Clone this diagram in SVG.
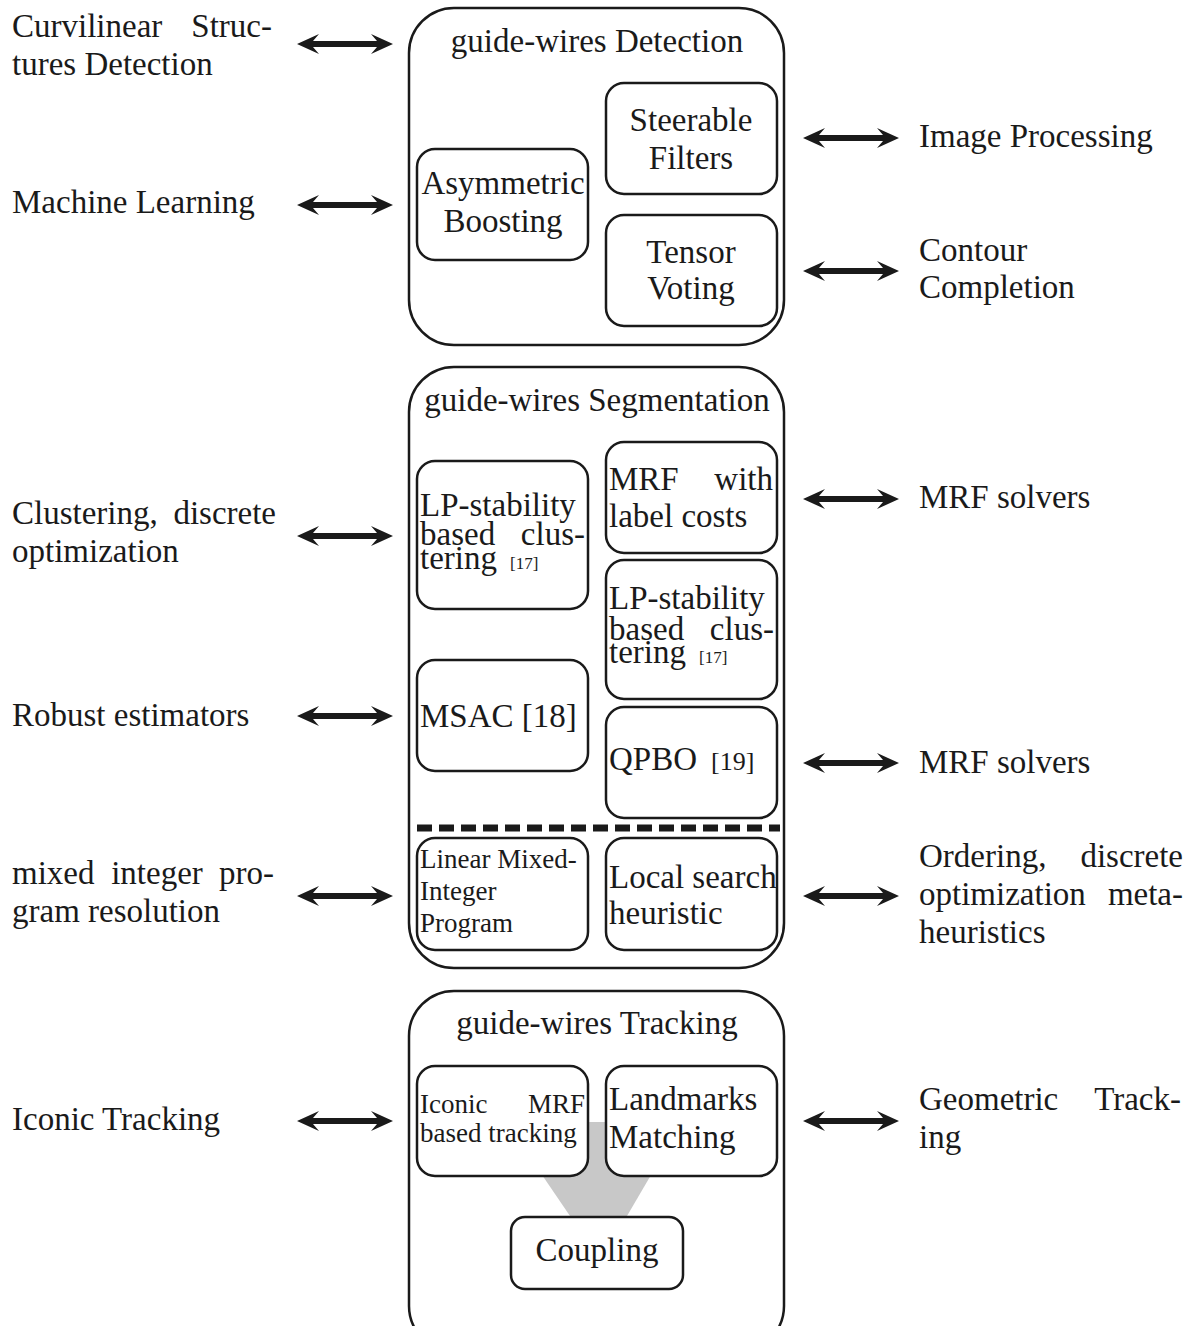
<svg xmlns="http://www.w3.org/2000/svg" width="1196" height="1326" viewBox="0 0 1196 1326">
<style>
text{font-family:"Liberation Serif","DejaVu Serif",serif;fill:#1a1a1a;font-size:33px}
.sm{font-size:27px}
.ref{font-size:17px}
.outer{fill:none;stroke:#1a1a1a;stroke-width:2.5}
.inner{fill:#fff;stroke:#1a1a1a;stroke-width:2.5}
.arr{fill:#1a1a1a}
.mid{text-anchor:middle}
.end{text-anchor:end}
</style>
<defs>
<path id="dbl" class="arr" d="M0,0 L22,-10 L16,-3 L80,-3 L74,-10 L96,0 L74,10 L80,3 L16,3 L22,10 Z"/>
</defs>
<rect width="1196" height="1326" fill="#fff"/>

<g id="connectors">
<use href="#dbl" x="297" y="44"/>
<use href="#dbl" x="297" y="205"/>
<use href="#dbl" x="297" y="536"/>
<use href="#dbl" x="297" y="716"/>
<use href="#dbl" x="297" y="896"/>
<use href="#dbl" x="297" y="1121"/>
<use href="#dbl" x="803" y="138"/>
<use href="#dbl" x="803" y="271"/>
<use href="#dbl" x="803" y="499"/>
<use href="#dbl" x="803" y="763"/>
<use href="#dbl" x="803" y="896"/>
<use href="#dbl" x="803" y="1121"/>
</g>

<g id="left-labels">
<text x="12" y="37">Curvilinear</text><text x="272" y="37" class="end">Struc-</text>
<text x="12" y="75">tures Detection</text>
<text x="12" y="213">Machine Learning</text>
<text x="12" y="524">Clustering,</text><text x="276" y="524" class="end">discrete</text>
<text x="12" y="562">optimization</text>
<text x="12" y="726">Robust estimators</text>
<text x="12" y="884">mixed</text><text x="157" y="884" class="mid">integer</text><text x="274" y="884" class="end">pro-</text>
<text x="12" y="922">gram resolution</text>
<text x="12" y="1130">Iconic Tracking</text>
</g>

<g id="right-labels">
<text x="919" y="147">Image Processing</text>
<text x="919" y="261">Contour</text>
<text x="919" y="298">Completion</text>
<text x="919" y="508">MRF solvers</text>
<text x="919" y="773">MRF solvers</text>
<text x="919" y="867">Ordering,</text><text x="1183" y="867" class="end">discrete</text>
<text x="919" y="905">optimization</text><text x="1183" y="905" class="end">meta-</text>
<text x="919" y="943">heuristics</text>
<text x="919" y="1110">Geometric</text><text x="1181" y="1110" class="end">Track-</text>
<text x="919" y="1148">ing</text>
</g>

<g id="detection">
<rect class="outer" x="409" y="8" width="375" height="337" rx="45"/>
<text x="597" y="52" class="mid">guide-wires Detection</text>
</g>
<g id="steerable">
<rect class="inner" x="606" y="83" width="171" height="111" rx="18"/>
<text x="691" y="131" class="mid">Steerable</text>
<text x="691" y="169" class="mid">Filters</text>
</g>
<g id="asymmetric">
<rect class="inner" x="417" y="149" width="171" height="111" rx="18"/>
<text x="503" y="194" class="mid">Asymmetric</text>
<text x="503" y="232" class="mid">Boosting</text>
</g>
<g id="tensor">
<rect class="inner" x="606" y="215" width="171" height="111" rx="18"/>
<text x="691" y="263" class="mid">Tensor</text>
<text x="691" y="299" class="mid">Voting</text>
</g>

<g id="segmentation">
<rect class="outer" x="409" y="367" width="375" height="601" rx="45"/>
<text x="597" y="411" class="mid">guide-wires Segmentation</text>
<line x1="417" y1="828" x2="780" y2="828" stroke="#1a1a1a" stroke-width="7" stroke-dasharray="15,7"/>
</g>
<g id="lp-left">
<rect class="inner" x="417" y="461" width="171" height="148" rx="18"/>
<text x="420" y="516">LP-stability</text>
<text x="420" y="545">based</text><text x="585" y="545" class="end">clus-</text>
<text x="420" y="569">tering</text>
<text x="510" y="569" class="ref">[17]</text>
</g>
<g id="mrf-label">
<rect class="inner" x="606" y="442" width="171" height="111" rx="18"/>
<text x="609" y="490">MRF</text><text x="773" y="490" class="end">with</text>
<text x="609" y="527">label costs</text>
</g>
<g id="lp-right">
<rect class="inner" x="606" y="560" width="171" height="139" rx="18"/>
<text x="609" y="609">LP-stability</text>
<text x="609" y="640">based</text><text x="774" y="640" class="end">clus-</text>
<text x="609" y="663">tering</text>
<text x="699" y="663" class="ref">[17]</text>
</g>
<g id="msac">
<rect class="inner" x="417" y="660" width="171" height="111" rx="18"/>
<text x="420" y="727">MSAC [18]</text>
</g>
<g id="qpbo">
<rect class="inner" x="606" y="707" width="171" height="111" rx="18"/>
<text x="609" y="770">QPBO</text>
<text x="711" y="770" style="font-size:26px">[19]</text>
</g>
<g id="milp">
<rect class="inner" x="417" y="838" width="171" height="112" rx="18"/>
<text x="420" y="868" class="sm">Linear Mixed-</text>
<text x="420" y="900" class="sm">Integer</text>
<text x="420" y="932" class="sm">Program</text>
</g>
<g id="local-search">
<rect class="inner" x="606" y="838" width="171" height="112" rx="18"/>
<text x="609" y="888">Local search</text>
<text x="609" y="924">heuristic</text>
</g>

<g id="tracking">
<rect class="outer" x="409" y="991" width="375" height="360" rx="45"/>
<text x="597" y="1034" class="mid">guide-wires Tracking</text>
<polygon points="506,1122 682,1122 627,1216 570,1216" fill="#c8c8c8"/>
</g>
<g id="iconic">
<rect class="inner" x="417" y="1066" width="171" height="110" rx="18"/>
<text x="420" y="1113" class="sm">Iconic</text><text x="585" y="1113" class="sm end">MRF</text>
<text x="420" y="1142" class="sm">based tracking</text>
</g>
<g id="landmarks">
<rect class="inner" x="606" y="1066" width="171" height="110" rx="18"/>
<text x="609" y="1110">Landmarks</text>
<text x="609" y="1148">Matching</text>
</g>
<g id="coupling">
<rect class="inner" x="511" y="1217" width="172" height="72" rx="14"/>
<text x="597" y="1261" class="mid">Coupling</text>
</g>
</svg>
